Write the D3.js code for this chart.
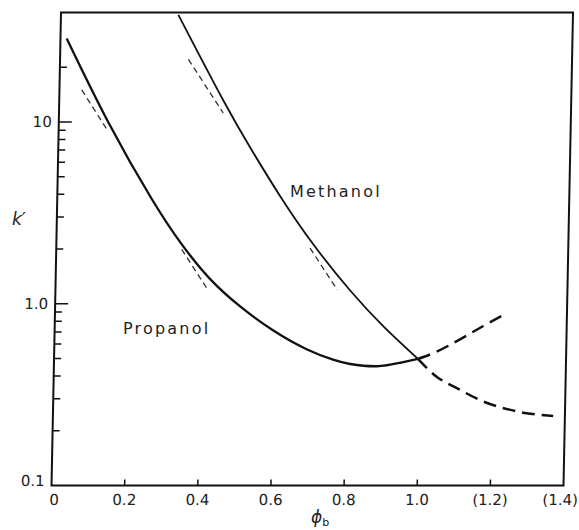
<!DOCTYPE html>
<html>
<head>
<meta charset="utf-8">
<script src="https://cdn.jsdelivr.net/npm/d3@7"></script>
<style>
  body { margin: 0; background: #fff; }
  text { font-family: "DejaVu Sans", sans-serif; fill: #222; }
</style>
</head>
<body>
<svg id="chart" width="579" height="530"></svg>
<script>
// Capacity factor k' versus volume fraction of modifier (phi_b)
const xTicks = [0, 0.2, 0.4, 0.6, 0.8, 1.0, 1.2, 1.4];
const xTickLabels = ["0", "0.2", "0.4", "0.6", "0.8", "1.0", "(1.2)", "(1.4)"];
const yMajor = [0.1, 1, 10];
const yMajorLabels = ["0.1", "1.0", "10"];
const yMinor = [0.2, 0.3, 0.4, 0.5, 0.6, 0.7, 0.8, 0.9, 2, 3, 4, 5, 6, 7, 8, 9, 20];

// Propanol: measured range (solid) and extrapolated range (dashed)
const propanolPhi = [0.017, 0.135, 0.258, 0.343, 0.422, 0.506, 0.597, 0.690, 0.763, 0.810, 0.883, 0.946, 0.995];
const propanolK   = [28.8, 10.0, 3.78, 2.121, 1.370, 0.966, 0.714, 0.562, 0.492, 0.466, 0.453, 0.473, 0.497];
const propanolExtPhi = [0.995, 1.046, 1.109, 1.172, 1.231];
const propanolExtK   = [0.497, 0.545, 0.637, 0.754, 0.878];

// Methanol
const methanolPhi = [0.321, 0.448, 0.531, 0.614, 0.703, 0.806, 0.901, 0.995];
const methanolK   = [38.8, 13.2, 6.90, 3.78, 2.116, 1.182, 0.743, 0.497];
const methanolExtPhi = [0.995, 1.047, 1.103, 1.167, 1.230, 1.295, 1.368];
const methanolExtK   = [0.497, 0.397, 0.343, 0.295, 0.267, 0.250, 0.241];

// Linear (log k' vs phi) approximations, start and end of each segment
const tangentPhi = [[0.061, 0.136], [0.351, 0.449], [0.343, 0.414], [0.694, 0.771]];
const tangentK   = [[15.0, 8.84], [22.1, 11.2], [1.99, 1.216], [2.02, 1.19]];

const W = 512, H = 473;
const svg = d3.select("#chart");
// plot frame, slightly sheared like the printed figure
const g = svg.append("g").attr("transform", "translate(61,12.5) skewX(-1.15)");

const x = d3.scaleLinear().domain([0, 1.4]).range([0, W]);
const y = d3.scaleLog().domain([0.1, 40]).range([H, 0]);

const zip = (a, b) => a.map((v, i) => [v, b[i]]);
const line = d3.line()
  .x(d => x(d[0])).y(d => y(d[1]))
  .curve(d3.curveNatural);

// frame
g.append("rect").attr("x", 0).attr("y", 0).attr("width", W).attr("height", H)
  .attr("fill", "none").attr("stroke", "#111").attr("stroke-width", 2);

// x ticks (inward) and labels
g.selectAll(".xt").data(xTicks.filter(v => v > 0 && v < 1.4)).join("line")
  .attr("x1", d => x(d)).attr("x2", d => x(d))
  .attr("y1", H).attr("y2", H - 6)
  .attr("stroke", "#111").attr("stroke-width", 1.5);
g.selectAll(".xl").data(xTicks).join("text")
  .attr("x", (d, i) => x(d) + (i === 0 ? 3 : i === xTicks.length - 1 ? -3 : 0))
  .attr("y", H + 20)
  .attr("text-anchor", "middle").attr("font-size", 15)
  .text((d, i) => xTickLabels[i]);

// y ticks
g.selectAll(".ymn").data(yMinor).join("line")
  .attr("x1", 0).attr("x2", 7)
  .attr("y1", d => y(d)).attr("y2", d => y(d))
  .attr("stroke", "#111").attr("stroke-width", 1.5);
g.selectAll(".ymj").data(yMajor.filter(v => v > 0.1)).join("line")
  .attr("x1", 0).attr("x2", 13)
  .attr("y1", d => y(d)).attr("y2", d => y(d))
  .attr("stroke", "#111").attr("stroke-width", 1.5);
g.selectAll(".yl").data(yMajor).join("text")
  .attr("x", -7).attr("y", d => y(d) + (d === 0.1 ? -5 : 0))
  .attr("dy", "0.36em")
  .attr("text-anchor", "end").attr("font-size", 15)
  .text((d, i) => yMajorLabels[i]);

// approximation segments
tangentPhi.forEach((p, i) => {
  g.append("line")
    .attr("x1", x(p[0])).attr("y1", y(tangentK[i][0]))
    .attr("x2", x(p[1])).attr("y2", y(tangentK[i][1]))
    .attr("stroke", "#333").attr("stroke-width", 1.3)
    .attr("stroke-dasharray", "6,4");
});

// curves
g.append("path").attr("d", line(zip(propanolPhi, propanolK)))
  .attr("fill", "none").attr("stroke", "#111").attr("stroke-width", 2.3);
g.append("path").attr("d", line(zip(propanolExtPhi, propanolExtK)))
  .attr("fill", "none").attr("stroke", "#111").attr("stroke-width", 2.5)
  .attr("stroke-dasharray", "13,7");
g.append("path").attr("d", line(zip(methanolPhi, methanolK)))
  .attr("fill", "none").attr("stroke", "#111").attr("stroke-width", 1.8);
g.append("path").attr("d", line(zip(methanolExtPhi, methanolExtK)))
  .attr("fill", "none").attr("stroke", "#111").attr("stroke-width", 2.5)
  .attr("stroke-dasharray", "13,7");

// curve labels
svg.append("text").attr("x", 290).attr("y", 197)
  .attr("font-size", 16).attr("letter-spacing", 2.2).text("Methanol");
svg.append("text").attr("x", 123).attr("y", 334)
  .attr("font-size", 16).attr("letter-spacing", 2.2).text("Propanol");

// axis titles
svg.append("text").attr("x", 12).attr("y", 225)
  .attr("font-size", 17).attr("font-style", "italic").text("k\u2032");
const xt = svg.append("text").attr("x", 311).attr("y", 523)
  .attr("font-size", 17).attr("font-style", "italic");
xt.append("tspan").text("\u03D5");
xt.append("tspan").attr("font-size", 11).attr("font-style", "normal").attr("dy", 3).text("b");
</script>
</body>
</html>
